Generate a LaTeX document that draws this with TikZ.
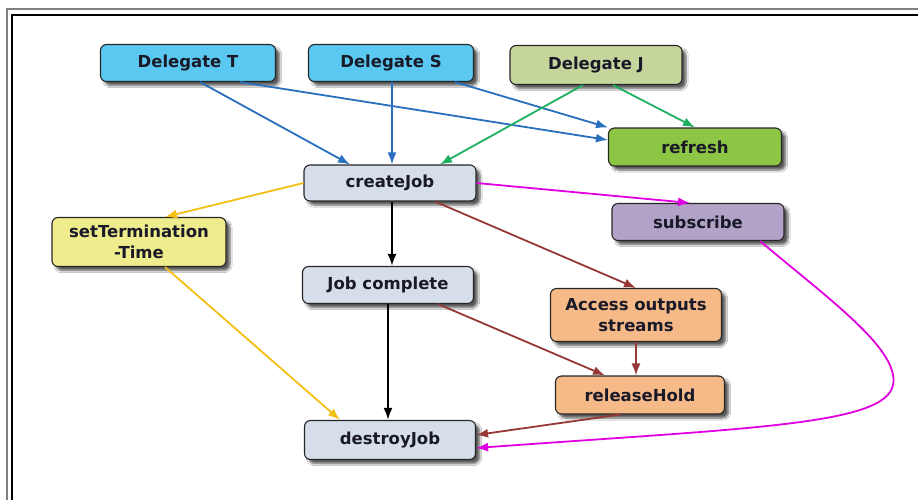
\documentclass[tikz,border=0pt]{standalone}
\usepackage{fontspec}
\setmainfont{DejaVu Sans}
\usetikzlibrary{arrows.meta,shadows.blur}

% colours
\definecolor{blueBox}{RGB}{90,200,240}
\definecolor{oliveBox}{RGB}{196,214,156}
\definecolor{greenBox}{RGB}{140,198,68}
\definecolor{greyBox}{RGB}{214,222,234}
\definecolor{violetBox}{RGB}{178,162,199}
\definecolor{yellowBox}{RGB}{238,236,140}
\definecolor{peachBox}{RGB}{245,186,136}
\definecolor{textDark}{RGB}{25,25,40}
\definecolor{edgeBlue}{RGB}{40,112,190}
\definecolor{edgeGreen}{RGB}{30,176,96}
\definecolor{edgeYellow}{RGB}{245,192,20}
\definecolor{edgeMagenta}{RGB}{225,0,225}
\definecolor{edgeBrown}{RGB}{150,56,56}

\tikzset{
  box/.style={draw=black!85, line width=1.1pt, rounded corners=6pt,
    minimum width=172pt, minimum height=37pt, align=center, inner xsep=2pt,
    font=\fontsize{16.5}{21}\selectfont\bfseries, text=textDark,
    blur shadow={shadow xshift=4pt, shadow yshift=-4pt, shadow blur steps=6, shadow opacity=65}},
  link/.style={line width=1.8pt, -{Latex[length=12pt,width=9pt]}},
}

\begin{document}
\begin{tikzpicture}[x=1pt,y=-1pt]
  \useasboundingbox (0,0) rectangle (918,499);
  \fill[white] (0,0) rectangle (918,499);

  % page frame
  \draw[black!50, line width=1.4pt] (7,9) rectangle (930,515);
  \draw[black, line width=1.4pt] (12,15) rectangle (930,515);

  % nodes
  \node[box, fill=blueBox, minimum width=175pt] (dt) at (188,63) {Delegate T};
  \node[box, fill=blueBox, minimum width=165pt] (ds) at (391,63) {Delegate S};
  \node[box, fill=oliveBox, minimum height=39pt] (dj) at (596,65) {Delegate J};
  \node[box, fill=greenBox, minimum width=173pt, minimum height=38pt] (rf) at (695,147) {refresh};
  \node[box, fill=greyBox, minimum height=36pt] (cj) at (390,183) {createJob};
  \node[box, fill=violetBox] (sb) at (698,222) {subscribe};
  \node[box, fill=yellowBox, minimum width=174pt, minimum height=49pt, inner ysep=1pt] (st) at (139,242) {setTermination\\-Time};
  \node[box, fill=greyBox, minimum width=171pt] (jc) at (388,285) {Job complete};
  \node[box, fill=peachBox, minimum width=171pt, minimum height=53pt, inner ysep=1pt] (ao) at (636,315) {Access outputs\\streams};
  \node[box, fill=peachBox, minimum width=169pt, minimum height=38pt] (rh) at (640,395) {releaseHold};
  \node[box, fill=greyBox, minimum width=171pt, minimum height=39pt] (dst) at (390,440) {destroyJob};

  % delegates
  \draw[link, edgeBlue] ([xshift=12pt]dt.south) -- ([xshift=-40pt]cj.north);
  \draw[link, edgeBlue] ([xshift=52pt]dt.south) -- ([yshift=7pt]rf.west);
  \draw[link, edgeBlue] ([xshift=1pt]ds.south) -- ([xshift=2pt]cj.north);
  \draw[link, edgeBlue] ([xshift=64pt]ds.south) -- (rf.north west);
  \draw[link, edgeGreen] ([xshift=-13pt]dj.south) -- ([xshift=50pt]cj.north);
  \draw[link, edgeGreen] ([xshift=17pt]dj.south) -- (rf.north);

  % job life cycle
  \draw[link, edgeYellow] (cj.west) -- ([xshift=26pt]st.north);
  \draw[link, edgeMagenta] (cj.east) -- ([xshift=-8pt]sb.north);
  \draw[link, black, line width=2.2pt] ([xshift=2pt]cj.south) -- ([xshift=4pt]jc.north);
  \draw[link, edgeBrown] ([xshift=45pt]cj.south) -- (ao.north);
  \draw[link, edgeYellow] ([xshift=26pt]st.south) -- ([xshift=-50pt]dst.north);
  \draw[link, black, line width=2.2pt] (jc.south) -- ([xshift=-2pt]dst.north);
  \draw[link, edgeBrown] ([xshift=50pt]jc.south) -- ([xshift=-35pt]rh.north);
  \draw[link, edgeBrown] (ao.south) -- ([xshift=-4pt]rh.north);
  \draw[link, edgeBrown] ([xshift=-20pt]rh.south) -- ([yshift=5pt]dst.east);
  \draw[link, edgeMagenta] ([xshift=62pt]sb.south)
    .. controls (830,300) and (900,350) .. (893,385)
    .. controls (885,425) and (750,428) .. ([yshift=-8pt]dst.east);
\end{tikzpicture}
\end{document}
